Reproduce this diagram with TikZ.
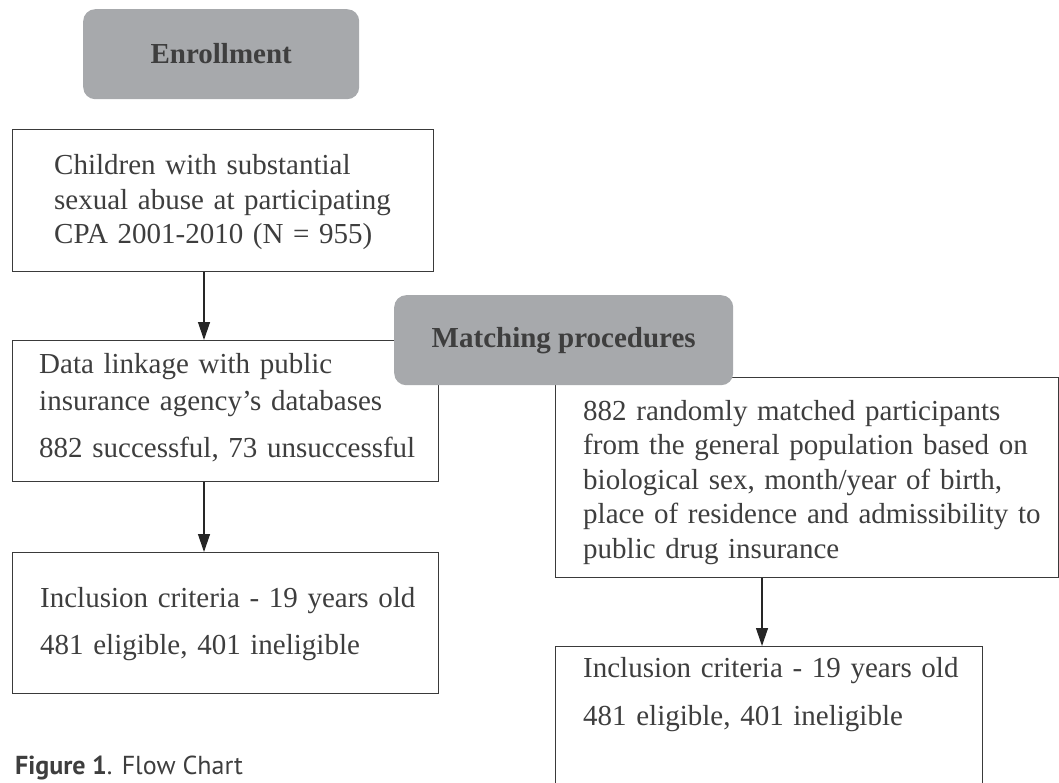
\documentclass[tikz,border=0pt]{standalone}
\usepackage{fontspec}
\setmainfont{Liberation Serif}
\newfontfamily\capfont{PT Sans}
\usepackage{xcolor}
\usetikzlibrary{arrows.meta}
\definecolor{headgray}{HTML}{A7A9AC}
\definecolor{ink}{HTML}{3E3E3E}
\definecolor{frame}{HTML}{3A3A3A}
\newcommand{\bodysize}{\fontsize{29}{34.5}\selectfont}

\begin{document}
\begin{tikzpicture}[x=1pt, y=-1pt,
    headnode/.style={shape=rectangle, rounded corners=12pt, fill=headgray, text=ink, font=\bfseries\bodysize, anchor=north west, inner sep=0pt},
    framenode/.style={shape=rectangle, draw=frame, line width=1.2pt, fill=white, anchor=north west, inner sep=0pt},
    textnode/.style={anchor=base west, align=left, text=ink, font=\bodysize, inner sep=0pt, text width=470pt},
    flowarrow/.style={draw=black!85, line width=1.3pt, -{Stealth[length=18pt, width=12pt, inset=0pt]}}
]
\useasboundingbox (0,0) rectangle (1059,783);
\clip (0,0) rectangle (1059,783);

% Boxes

% left column
\node[headnode, minimum width=276pt, minimum height=90pt] (enrollment) at (83,9) {\raisebox{2pt}{Enrollment}};
\node[framenode, minimum width=421pt, minimum height=142pt] (children) at (12,129) {};
\node[framenode, minimum width=426pt, minimum height=141pt] (linkage) at (12,340) {};
\node[framenode, minimum width=426pt, minimum height=141pt] (inclusion_left) at (12,552) {};

% right column
\node[framenode, minimum width=503pt, minimum height=200pt] (matched) at (555,377) {};
\node[framenode, minimum width=427pt, minimum height=170pt] (inclusion_right) at (555,646) {};

% header on top of both columns
\node[headnode, minimum width=339pt, minimum height=90pt] (matching) at (394,295) {\raisebox{2pt}{Matching procedures}};

% Texts
\node[textnode] (children_txt) at (54,175) {Children with substantial\\sexual abuse at participating\\CPA 2001-2010 (N = 955)};
\node[textnode] (linkage_txt) at (39,373) {Data linkage with public\\[3pt]insurance agency's databases\\[12pt]882 successful, 73 unsuccessful};
\node[textnode] (inclusion_left_txt) at (40,607) {Inclusion criteria - 19 years old\\[12.5pt]481 eligible, 401 ineligible};
\node[textnode] (matched_txt) at (583,420) {882 randomly matched participants\\from the general population based on\\biological sex, month/year of birth,\\place of residence and admissibility to\\public drug insurance};
\node[textnode] (inclusion_right_txt) at (583,677) {Inclusion criteria - 19 years old\\[14pt]481 eligible, 401 ineligible};

\node[anchor=base west, inner sep=0pt, text=ink, font=\capfont\fontsize{26}{30}\selectfont] (caption) at (15,774) {\textbf{Figure 1}. Flow Chart};

% Arrows
\draw[flowarrow] ([xshift=192pt]children.south west) -- ([xshift=192pt]linkage.north west);
\draw[flowarrow] ([xshift=192pt]linkage.south west) -- ([xshift=192pt]inclusion_left.north west);
\draw[flowarrow] ([xshift=207pt]matched.south west) -- ([xshift=207pt]inclusion_right.north west);

\end{tikzpicture}
\end{document}
